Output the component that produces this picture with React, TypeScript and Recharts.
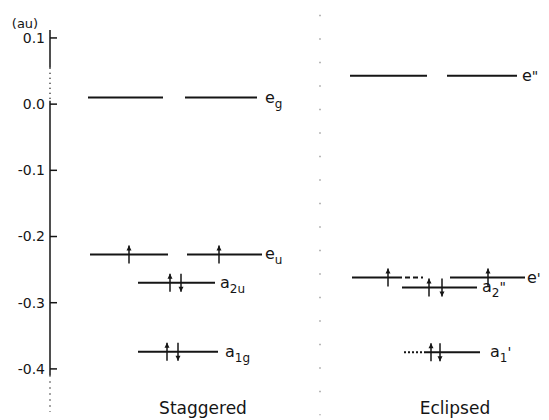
import { ComposedChart, XAxis, YAxis, ReferenceLine, Scatter } from "recharts";

const INK = "#151515";
const FONT = "'DejaVu Sans', sans-serif";

// orbital energies (au)
const staggeredNames = ["eg", "eu", "a2u", "a1g"];
const staggeredEnergies = [0.01, -0.227, -0.27, -0.374];
const eclipsedNames = ["e''", "e'", "a2''", "a1'"];
const eclipsedEnergies = [0.043, -0.262, -0.277, -0.375];

// electrons on each level: u = spin up, d = spin down
const staggeredSpins = [[], ["u", "u"], ["u", "d"], ["u", "d"]];
const eclipsedSpins = [[], ["u", "u"], ["u", "d"], ["u", "d"]];

const yTicks = [0.1, 0.0, -0.1, -0.2, -0.3, -0.4];
const columns = ["Staggered", "Eclipsed"];

// label text: [symbol, subscript, prime]
const LABEL_PARTS: Record<string, [string, string, string]> = {
  eg: ["e", "g", ""],
  eu: ["e", "u", ""],
  a2u: ["a", "2u", ""],
  a1g: ["a", "1g", ""],
  "e''": ["e", "", '"'],
  "e'": ["e", "", "'"],
  "a2''": ["a", "2", '"'],
  "a1'": ["a", "1", "'"],
};

// horizontal layout in x-axis units (1 unit = 10px); [from, to, dash?]
type Span = [number, number, string?];
const staggeredLayout: { spans: Span[]; label: number; spinX: number[] }[] = [
  { spans: [[3.8, 11.3], [13.5, 20.7]], label: 21.5, spinX: [] },
  { spans: [[4.0, 11.8], [13.7, 21.2]], label: 21.5, spinX: [7.9, 16.9] },
  { spans: [[8.8, 16.5]], label: 17.0, spinX: [12.0, 13.1] },
  { spans: [[8.8, 16.8]], label: 17.5, spinX: [11.7, 12.8] },
];
const eclipsedLayout: { spans: Span[]; label: number; spinX: number[] }[] = [
  { spans: [[30.0, 37.7], [39.7, 46.7]], label: 47.2, spinX: [] },
  { spans: [[30.2, 34.7], [34.7, 37.3, "5 3"], [40.0, 47.5]], label: 47.7, spinX: [33.8, 43.8] },
  { spans: [[35.2, 42.7]], label: 43.2, spinX: [37.9, 39.2] },
  { spans: [[35.4, 37.5, "2 2"], [37.5, 43.0]], label: 44.0, spinX: [38.1, 39.0] },
];
const columnCenters = [15.3, 40.5];
const separatorX = 27;
// energy axis drawn by hand so it can break into dots like the scan
const axisPieces: Span[] = [
  [0.112, 0.055],
  [0.055, 0.005, "1 4"],
  [0.005, -0.41],
  [-0.41, -0.465, "1 5"],
];

const levels = [
  ...staggeredNames.map((name, i) => ({
    name,
    energy: staggeredEnergies[i],
    spins: staggeredSpins[i],
    ...staggeredLayout[i],
  })),
  ...eclipsedNames.map((name, i) => ({
    name,
    energy: eclipsedEnergies[i],
    spins: eclipsedSpins[i],
    ...eclipsedLayout[i],
  })),
];

const spinPoints = levels.flatMap((l) =>
  l.spins.map((dir, k) => ({ x: l.spinX[k], y: l.energy, dir })),
);
const labelPoints = levels.map((l) => ({ x: l.label, y: l.energy, name: l.name }));

function LevelLabel({ cx, cy, payload }: any) {
  if (cx == null || cy == null) return <g />;
  const [base, sub, prime] = LABEL_PARTS[payload.name];
  return (
    <text x={cx} y={cy + 5} fill={INK} fontSize={16}>
      {base}
      {sub && (
        <tspan fontSize={12} dy={5}>
          {sub}
        </tspan>
      )}
      {prime && (
        <tspan fontSize={14} dy={sub ? -5 : 0}>
          {prime}
        </tspan>
      )}
    </text>
  );
}

function Spin({ cx, cy, payload }: any) {
  if (cx == null || cy == null) return <g />;
  const up = payload.dir === "u";
  const tip = up ? cy - 9 : cy + 9;
  const tail = up ? cy + 9 : cy - 9;
  const back = up ? tip + 5 : tip - 5;
  return (
    <g>
      <line x1={cx} x2={cx} y1={tail} y2={tip} stroke={INK} strokeWidth={1.5} />
      <path d={`M${cx},${tip} L${cx - 2.5},${back} L${cx + 2.5},${back} Z`} fill={INK} />
    </g>
  );
}

export default function App() {
  return (
    <div style={{ position: "absolute", left: 0, top: 0, fontFamily: FONT, background: "#fff" }}>
      <ComposedChart width={549} height={420} margin={{ top: 30, right: 9, bottom: 0, left: 0 }}>
        <XAxis
          type="number"
          dataKey="x"
          domain={[0, 49]}
          allowDataOverflow
          ticks={columnCenters}
          interval={0}
          tickFormatter={(v) => columns[columnCenters.indexOf(v)]}
          axisLine={false}
          tickLine={false}
          tickSize={0}
          tickMargin={0}
          height={18}
          tick={{ fill: INK, fontSize: 17 }}
        />
        <YAxis
          type="number"
          dataKey="y"
          domain={[-0.45, 0.112]}
          allowDataOverflow
          ticks={yTicks}
          interval={0}
          tickFormatter={(v) => v.toFixed(1)}
          width={50}
          axisLine={false}
          tickSize={-7}
          tickMargin={12}
          tickLine={{ stroke: INK, strokeWidth: 1.5 }}
          tick={{ fill: INK, fontSize: 14 }}
          label={{ value: "(au)", position: "top", offset: 2, fill: INK, fontSize: 13 }}
        />

        {axisPieces.map(([a, b, dash], i) => (
          <ReferenceLine
            key={`axis-${i}`}
            segment={[
              { x: 0, y: a },
              { x: 0, y: b },
            ]}
            stroke={INK}
            strokeWidth={1.5}
            strokeDasharray={dash}
            ifOverflow="visible"
          />
        ))}

        <ReferenceLine
          segment={[
            { x: separatorX, y: 0.135 },
            { x: separatorX, y: -0.47 },
          ]}
          stroke="#888"
          strokeWidth={1.2}
          strokeDasharray="1.5 22"
          ifOverflow="visible"
        />

        {levels.flatMap((l) =>
          l.spans.map(([from, to, dash], k) => (
            <ReferenceLine
              key={`${l.name}-${k}`}
              segment={[
                { x: from, y: l.energy },
                { x: to, y: l.energy },
              ]}
              stroke={INK}
              strokeWidth={2}
              strokeDasharray={dash}
              ifOverflow="visible"
            />
          )),
        )}

        <Scatter data={spinPoints} shape={(p: any) => <Spin {...p} />} isAnimationActive={false} />
        <Scatter data={labelPoints} shape={(p: any) => <LevelLabel {...p} />} isAnimationActive={false} />
      </ComposedChart>
    </div>
  );
}
